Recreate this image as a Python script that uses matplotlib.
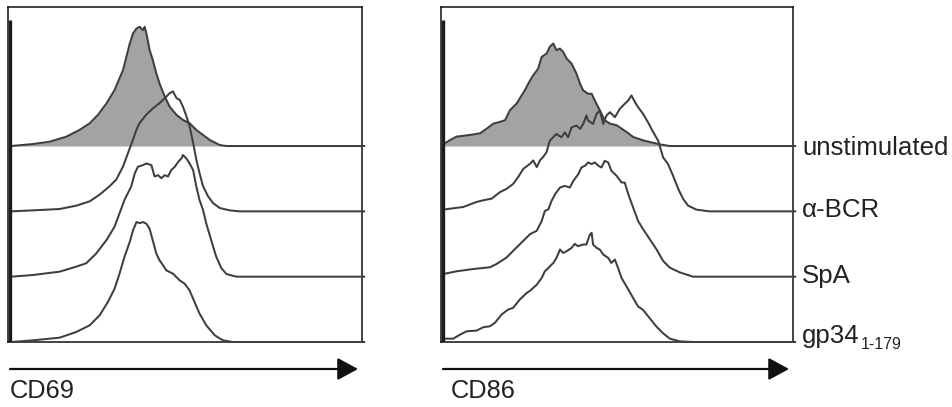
import matplotlib
matplotlib.use("Agg")
import matplotlib.pyplot as plt
import numpy as np

plt.rcParams['font.family'] = ['Liberation Sans', 'DejaVu Sans']

# sample names (top to bottom) and vertical offsets (% of panel height)
samples = ["unstimulated", "α-BCR", "SpA", "gp34"]
subscript = "1-179"
offsets = [58.5, 39.0, 19.5, 0.0]
markers = ["CD69", "CD86"]

# ---- CD69 panel: x = % of axis width, h = % of panel height ----
cd69_unstim_x = [0.9, 7.1, 11.8, 16.5, 20.2, 23.1, 25.4, 27.8, 30.1, 32.5, 34.4, 35.3, 36.3, 37.2, 38.1, 38.6, 39.1,
                 40.0, 40.9, 41.9, 42.8, 44.3, 45.7, 47.6, 49.4, 51.3, 53.2, 55.1, 57.0, 59.8, 61.7, 100.6]
cd69_unstim_h = [0, 0.6, 1.3, 2.8, 4.8, 6.8, 9.3, 12.7, 16.7, 22.7, 30.6, 33.6, 35.1, 35.6, 34.6, 35.6, 33.6,
                 28.7, 25.7, 21.7, 18.7, 14.7, 11.7, 9.3, 7.8, 6.8, 4.8, 3.3, 1.8, 0.3, 0, 0]
cd69_bcr_x = [0.9, 7.1, 14.6, 19.3, 23.1, 25.9, 28.7, 30.6, 32.5, 33.9, 35.3, 36.3, 37.2, 39.1, 41.0, 42.8, 44.3,
              45.7, 46.6, 47.6, 48.5, 49.4, 50.4, 51.3, 52.3, 53.2, 54.1, 55.1, 56.5, 57.9, 59.8, 62.6, 65.4, 100.6]
cd69_bcr_h = [0, 0.3, 0.7, 1.7, 3.0, 5.0, 7.5, 9.5, 13.4, 17.4, 21.4, 24.4, 26.4, 28.9, 30.8, 32.3, 33.8,
              35.3, 35.8, 33.8, 33.3, 31.3, 28.4, 25.4, 20.4, 15.4, 11.4, 7.5, 4.5, 2.5, 1.0, 0.3, 0, 0]
cd69_spa_x = [0.9, 7.1, 14.6, 19.3, 22.1, 24.9, 27.8, 30.1, 31.5, 32.9, 34.8, 35.8, 36.7, 38.1, 39.1, 40.5, 41.4,
              42.4, 43.3, 44.3, 45.2, 46.1, 47.1, 48.1, 49.0, 49.4, 50.4, 51.3, 52.3, 53.2, 54.1, 55.1, 56.0,
              57.4, 58.8, 60.3, 61.7, 64.5, 100.6]
cd69_spa_h = [0, 0.5, 1.5, 3.0, 4.0, 6.9, 10.9, 14.9, 18.9, 22.9, 26.9, 30.8, 32.8, 33.3, 33.8, 33.3, 29.9,
              30.3, 29.4, 30.3, 29.9, 31.8, 32.8, 34.3, 35.3, 36.3, 35.3, 33.8, 31.8, 26.9, 22.9, 19.9, 15.9,
              10.9, 6.0, 2.5, 0.8, 0, 0]
cd69_gp34_x = [0.9, 7.1, 14.6, 19.3, 23.1, 25.9, 28.2, 30.1, 31.5, 32.9, 34.4, 35.3, 36.3, 37.2, 38.1, 39.1, 40.0,
               40.9, 41.9, 42.8, 43.8, 44.7, 46.6, 48.5, 49.9, 51.3, 52.7, 54.1, 56.0, 58.4, 60.7, 63.5, 100.6]
cd69_gp34_h = [0, 0.5, 1.3, 3.0, 5.0, 8.0, 11.9, 15.9, 20.4, 25.4, 29.9, 33.3, 35.8, 35.5, 35.8, 35.3, 33.8,
               30.3, 26.4, 24.4, 22.9, 21.4, 20.4, 18.4, 17.4, 15.4, 11.9, 8.5, 5.0, 2.0, 0.5, 0, 0]

# ---- CD86 panel ----
cd86_unstim_x = [0.7, 1.1, 2.6, 4.4, 8.2, 11.1, 13.0, 14.9, 16.7, 18.2, 19.6, 21.5, 22.9, 23.8, 25.3, 26.2, 27.6,
                 28.6, 30.0, 30.9, 31.9, 32.8, 33.8, 34.7, 35.7, 37.1, 38.5, 39.5, 40.4, 41.8, 42.8, 43.7, 45.1,
                 46.5, 48.0, 49.9, 51.3, 52.7, 54.6, 56.0, 57.4, 59.3, 62.2, 65.0, 100.6]
cd86_unstim_h = [0, 0.8, 1.8, 2.8, 3.3, 3.8, 5.2, 6.7, 7.2, 7.7, 10.7, 12.7, 15.1, 16.6, 19.6, 21.1, 23.1,
                 26.6, 27.6, 29.6, 30.6, 28.6, 29.1, 28.1, 26.1, 24.6, 21.6, 18.6, 16.6, 15.6, 15.6, 13.6, 10.7,
                 7.7, 6.7, 6.2, 5.2, 4.2, 2.7, 2.2, 1.7, 1.2, 0.5, 0, 0]
cd86_bcr_x = [0.7, 2.6, 6.3, 10.1, 12.0, 14.4, 16.7, 18.6, 20.5, 21.9, 23.4, 25.3, 26.2, 27.2, 28.1, 29.0, 30.0,
              30.9, 32.8, 34.2, 35.2, 36.1, 37.1, 38.5, 39.5, 40.4, 41.3, 41.8, 43.2, 44.2, 45.1, 46.1, 47.0,
              48.0, 49.4, 50.8, 52.2, 53.2, 54.1, 55.1, 56.0, 57.4, 58.8, 60.3, 61.7, 63.1, 64.5, 65.9, 67.4,
              68.8, 70.2, 72.6, 76.3, 100.6]
cd86_bcr_h = [0.5, 0.8, 1.3, 2.8, 3.3, 3.8, 5.7, 6.7, 8.2, 10.2, 12.7, 14.2, 15.2, 13.2, 15.2, 16.2, 17.7,
              21.1, 23.1, 22.1, 23.6, 22.1, 25.1, 25.6, 24.6, 26.1, 28.6, 27.1, 26.1, 29.1, 30.1, 26.1, 28.6,
              29.6, 28.1, 30.6, 32.1, 33.1, 34.6, 32.6, 31.1, 29.1, 26.6, 23.6, 21.1, 16.1, 14.1, 10.7, 6.7,
              3.7, 1.7, 0.5, 0, 0]
cd86_spa_x = [0.7, 4.4, 9.2, 13.9, 15.8, 18.6, 20.5, 22.9, 25.3, 27.2, 28.6, 29.5, 30.5, 31.4, 32.4, 33.8, 35.2,
              36.6, 37.6, 39.0, 39.9, 40.9, 41.8, 42.8, 43.7, 44.7, 45.6, 46.5, 47.5, 48.4, 49.9, 51.3, 52.2,
              53.2, 54.6, 56.0, 57.4, 59.3, 61.2, 63.1, 65.0, 67.8, 71.6, 100.6]
cd86_spa_h = [0.8, 1.6, 2.3, 2.8, 3.8, 5.7, 7.7, 10.2, 12.7, 13.7, 16.6, 19.6, 20.1, 22.6, 24.6, 26.6, 27.1,
              26.6, 28.6, 30.6, 32.6, 33.1, 34.1, 33.6, 34.1, 33.1, 32.6, 34.6, 34.1, 31.6, 30.1, 28.1, 28.1,
              24.6, 20.6, 16.6, 14.2, 11.2, 8.2, 4.7, 2.7, 1.3, 0, 0]
cd86_gp34_x = [0.7, 3.5, 5.4, 7.3, 10.1, 12.0, 13.9, 15.3, 17.2, 19.1, 20.5, 22.4, 24.3, 25.3, 27.2, 28.6, 29.5,
               30.5, 31.9, 32.8, 33.8, 34.7, 35.7, 37.1, 38.0, 38.9, 40.4, 41.3, 42.3, 42.8, 43.2, 44.2, 45.1,
               46.1, 47.5, 48.4, 49.4, 50.3, 51.3, 52.7, 54.6, 56.0, 57.4, 59.3, 61.2, 63.1, 65.0, 67.8, 71.6, 100.6]
cd86_gp34_h = [1.0, 1.0, 2.2, 3.2, 3.4, 4.4, 4.7, 5.7, 8.2, 9.7, 10.2, 12.7, 14.6, 15.3, 17.1, 19.1, 21.1,
               22.1, 23.6, 25.1, 27.6, 26.6, 27.1, 28.1, 29.3, 28.6, 29.1, 29.1, 32.1, 32.6, 29.1, 28.1, 27.6,
               26.1, 25.1, 23.6, 24.6, 22.1, 19.1, 16.6, 13.1, 10.6, 9.6, 7.1, 4.6, 2.6, 1.0, 0.2, 0, 0]

panels = [
    [(cd69_unstim_x, cd69_unstim_h), (cd69_bcr_x, cd69_bcr_h), (cd69_spa_x, cd69_spa_h), (cd69_gp34_x, cd69_gp34_h)],
    [(cd86_unstim_x, cd86_unstim_h), (cd86_bcr_x, cd86_bcr_h), (cd86_spa_x, cd86_spa_h), (cd86_gp34_x, cd86_gp34_h)],
]

W, H = 953, 407
fig = plt.figure(figsize=(W / 100, H / 100), dpi=100)

line_col = "#3c3f42"
fill_col = "#a3a3a3"
ax_px = [(8, 354), (441, 352)]
box_top, box_bot = 7, 342

axes = []
for p, (x0, w) in enumerate(ax_px):
    ax = fig.add_axes([x0 / W, (H - box_bot) / H, w / W, (box_bot - box_top) / H])
    ax.set_xlim(0, 100)
    ax.set_ylim(0, 100)
    ax.set_xticks([])
    ax.set_yticks([])
    for s in ax.spines.values():
        s.set_linewidth(1.1)
        s.set_color("#111111")
    curves = panels[p]
    # filled unstimulated histogram
    ux, uh = curves[0]
    ux = np.array(ux); uh = np.array(uh)
    ax.fill_between(ux, offsets[0], offsets[0] + uh, color=fill_col, lw=0, zorder=1)
    for i, (cx, ch) in enumerate(curves):
        cx = np.array(cx); ch = np.array(ch)
        ax.plot(cx, offsets[i] + ch, color=line_col, lw=1.45, zorder=3, clip_on=False,
                solid_joinstyle='round')
    # piled-up first bin at the left edge
    ax.plot([0.5, 0.5], [0, 96], color="#1a1c1e", lw=2.4, zorder=4, solid_capstyle='butt')
    axes.append(ax)

    # arrow and marker label below
    ax0 = x0 + 2
    ax1 = x0 + w - 4
    fig.add_artist(matplotlib.patches.FancyArrowPatch(
        (ax0 / W, (H - 369) / H), (ax1 / W, (H - 369) / H), transform=fig.transFigure,
        arrowstyle="-|>,head_length=1.25,head_width=0.68", mutation_scale=10,
        color="#111111", lw=1.6, shrinkA=0, shrinkB=0))
    fig.text((x0 + 2 + (8 if p == 1 else 0)) / W, (H - 398) / H, markers[p], fontsize=18.3,
             color="#222222", ha="left", va="baseline")

# sample labels on right panel
axr = axes[1]
label_base = [55.8, 37.3, 17.6, -0.3]
lab_x = (802 - 441) / 352 * 100
for i, name in enumerate(samples):
    t = axr.text(lab_x, label_base[i], name, fontsize=18.6, color="#222222",
                 ha="left", va="baseline", clip_on=False)
    if name == "gp34":
        axr.annotate(subscript, xy=(1.0, 0.0), xycoords=t, xytext=(0.5, 2.5),
                     textcoords="offset points", fontsize=11.5, color="#222222",
                     ha="left", va="center")

fig.savefig("out.png", dpi=100)
